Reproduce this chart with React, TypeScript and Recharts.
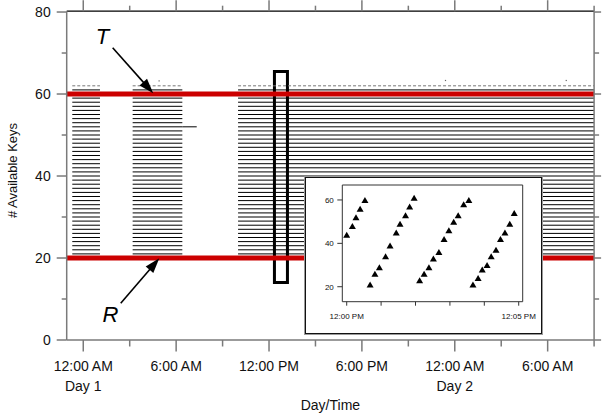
import React from 'react';
import {
  ComposedChart,
  ScatterChart,
  Line,
  Scatter,
  XAxis,
  YAxis,
  ReferenceLine,
  ReferenceArea,
  ReferenceDot,
} from 'recharts';

// ---------- main chart data ----------
const blockStartHours = [-0.71, 3.19, 10.0];
const blockEndHours = [1.08, 6.4, 33.0];
const keyLevels = [
  21, 22, 23, 24, 25, 26, 27, 28, 29, 30, 31, 32, 33, 34, 35, 36, 37, 38, 39, 40,
  41, 42, 43, 44, 45, 46, 47, 48, 49, 50, 51, 52, 53, 54, 55, 56, 57, 58, 59, 60, 61,
];
const extraLevel = 52;
const extraStartHour = 6.4;
const extraEndHour = 7.33;
const dottedLevel = 62;
const strayDotHours = [4.9, 23.4, 31.2];
const strayDotKeys = [63.2, 63.3, 63.3];
const thresholdT = 60;
const thresholdR = 20;
const highlightHours = [12.35, 13.19];
const highlightKeys = [14.0, 65.5];
const arrowT = { fromH: 1.9, fromK: 71.3, toH: 4.52, toK: 60.17 };
const arrowR = { fromH: 2.42, fromK: 8.95, toH: 4.91, toK: 19.93 };
const labelT = { h: 1.24, k: 72.2, text: 'T' };
const labelR = { h: 1.76, k: 4.46, text: 'R' };

const hourTicks = [0, 3, 6, 9, 12, 15, 18, 21, 24, 27, 30, 33];
const hourLabels: Record<number, string[]> = {
  0: ['12:00 AM', 'Day 1'],
  6: ['6:00 AM'],
  12: ['12:00 PM'],
  18: ['6:00 PM'],
  24: ['12:00 AM', 'Day 2'],
  30: ['6:00 AM'],
};
const keyTicks = [0, 10, 20, 30, 40, 50, 60, 70, 80];
const majorKeyTicks = [0, 20, 40, 60, 80];

// ---------- inset data ----------
const run1Minutes = [0.0, 0.165, 0.27, 0.39, 0.53];
const run1Keys = [44, 48, 52, 56, 60];
const run2Minutes = [0.68, 0.82, 0.95, 1.13, 1.26, 1.44, 1.55, 1.71, 1.83, 1.96];
const run2Keys = [21, 26, 29, 34, 39, 45, 49, 53, 57, 61];
const run3Minutes = [2.12, 2.25, 2.39, 2.52, 2.68, 2.83, 2.97, 3.11, 3.24, 3.4, 3.55];
const run3Keys = [23, 26, 29, 33, 36, 42, 46, 50, 53, 58, 60];
const run4Minutes = [3.67, 3.82, 3.94, 4.08, 4.2, 4.34, 4.47, 4.6, 4.74, 4.87];
const run4Keys = [21, 24, 28, 30, 34, 37, 42, 45, 49, 54];
const insetMinuteTicks = [0, 1, 2, 3, 4, 5];
const insetMinuteLabels: Record<number, string> = { 0: '12:00 PM', 5: '12:05 PM' };
const insetKeyTicks = [20, 40, 60];

// ---------- build tables ----------
type Row = { h: number; k: number | null };
const levelRows = (level: number): Row[] => {
  const rows: Row[] = [];
  blockStartHours.forEach((s, i) => {
    const e = level === extraLevel && i === 1 ? extraEndHour : blockEndHours[i];
    rows.push({ h: s, k: level });
    if (level === extraLevel && i === 1) rows.push({ h: extraStartHour, k: level });
    rows.push({ h: e, k: level });
    rows.push({ h: e, k: null });
  });
  return rows;
};
const dottedRows: Row[] = [];
blockStartHours.forEach((s, i) => {
  dottedRows.push({ h: s, k: dottedLevel });
  dottedRows.push({ h: blockEndHours[i], k: dottedLevel });
  dottedRows.push({ h: blockEndHours[i], k: null });
});
const strayRows = strayDotHours.map((h, i) => ({ h, k: strayDotKeys[i] }));

const mkRun = (m: number[], k: number[]) => m.map((v, i) => ({ m: v, k: k[i] }));
const insetRuns = [
  mkRun(run1Minutes, run1Keys),
  mkRun(run2Minutes, run2Keys),
  mkRun(run3Minutes, run3Keys),
  mkRun(run4Minutes, run4Keys),
];

const AXIS = '#7a7a7a';
const TXT = '#111';

// ---------- custom ticks ----------
const BottomTick = (p: any) => {
  const v = p.payload.value;
  const major = v % 6 === 0;
  const lbl = hourLabels[v];
  return (
    <g>
      <line x1={p.x} x2={p.x} y1={p.y} y2={p.y + (major ? 11.5 : 6.5)} stroke={AXIS} strokeWidth={1.5} />
      {lbl &&
        lbl.map((t, i) => (
          <text key={i} x={p.x} y={p.y + 31 + i * 19.5} textAnchor="middle" fontSize={14} fill={TXT}>
            {t}
          </text>
        ))}
    </g>
  );
};
const TopTick = (p: any) => {
  const major = p.payload.value % 6 === 0;
  return <line x1={p.x} x2={p.x} y1={p.y} y2={p.y - (major ? 11 : 5.5)} stroke={AXIS} strokeWidth={1.5} />;
};
const LeftTick = (p: any) => {
  const v = p.payload.value;
  const major = majorKeyTicks.includes(v);
  return (
    <g>
      <line x1={p.x} x2={p.x - (major ? 10 : 5)} y1={p.y} y2={p.y} stroke={AXIS} strokeWidth={1.5} />
      {major && (
        <text x={p.x - 16} y={p.y + 5} textAnchor="end" fontSize={14} fill={TXT}>
          {v}
        </text>
      )}
    </g>
  );
};
const RightTick = (p: any) => {
  const major = majorKeyTicks.includes(p.payload.value);
  return <line x1={p.x} x2={p.x + (major ? 7 : 5)} y1={p.y} y2={p.y} stroke={AXIS} strokeWidth={1.5} />;
};
const InsetXTick = (p: any) => {
  const v = p.payload.value;
  const lbl = insetMinuteLabels[v];
  return (
    <g>
      <line x1={p.x} x2={p.x} y1={p.y} y2={p.y + 4} stroke="#333" strokeWidth={1} />
      {lbl && (
        <text x={p.x} y={p.y + 17} textAnchor="middle" fontSize={8} fill={TXT}>
          {lbl}
        </text>
      )}
    </g>
  );
};
const InsetYTick = (p: any) => (
  <g>
    <line x1={p.x} x2={p.x - 5} y1={p.y} y2={p.y} stroke="#333" strokeWidth={1} />
    <text x={p.x - 8.5} y={p.y + 3} textAnchor="end" fontSize={8} fill={TXT}>
      {p.payload.value}
    </text>
  </g>
);

const Arrow = (p: any) => {
  const { x1, y1, x2, y2 } = p;
  const dx = x2 - x1;
  const dy = y2 - y1;
  const len = Math.hypot(dx, dy) || 1;
  const ux = dx / len;
  const uy = dy / len;
  const hl = 15;
  const hw = 5;
  const bx = x2 - ux * hl;
  const by = y2 - uy * hl;
  return (
    <g>
      <line x1={x1} y1={y1} x2={bx + ux * 2} y2={by + uy * 2} stroke="#000" strokeWidth={1.6} />
      <polygon points={`${x2},${y2} ${bx - uy * hw},${by + ux * hw} ${bx + uy * hw},${by - ux * hw}`} fill="#000" />
    </g>
  );
};
const letterShape = (text: string) => (p: any) => (
  <text x={p.cx} y={p.cy} textAnchor="middle" fontSize={22} fontStyle="italic" fill="#000">
    {text}
  </text>
);
const Triangle = (p: any) => {
  const { cx, cy } = p;
  return <polygon points={`${cx},${cy - 3} ${cx + 3.5},${cy + 3} ${cx - 3.5},${cy + 3}`} fill="#000" />;
};
const StrayDot = (p: any) => <rect x={p.cx - 0.6} y={p.cy - 0.6} width={1.2} height={1.2} fill="#666" />;

const YTitle = () => (
  <text transform="translate(16.7,170.5) rotate(-90)" textAnchor="middle" fontSize={13} fill={TXT}>
    # Available Keys
  </text>
);

export default function App() {
  return (
    <div
      style={{
        position: 'absolute',
        left: 0,
        top: 0,
        width: 602,
        height: 418,
        background: '#fff',
        fontFamily: "'Liberation Sans', Arial, Helvetica, sans-serif",
      }}
    >
      <ComposedChart width={602} height={418} margin={{ top: 0, right: 0, bottom: 0, left: 0 }}>
        <XAxis
          dataKey="h"
          type="number"
          domain={[-1.07, 33]}
          allowDataOverflow
          ticks={hourTicks}
          interval={0}
          height={78}
          tickSize={0}
          tickMargin={0}
          tickLine={false}
          axisLine={{ stroke: AXIS, strokeWidth: 1.5 }}
          tick={<BottomTick />}
          label={{ value: 'Day/Time', position: 'insideBottom', offset: 8, fontSize: 14, fill: TXT }}
        />
        <XAxis
          xAxisId="top"
          orientation="top"
          dataKey="h"
          type="number"
          domain={[-1.07, 33]}
          allowDataOverflow
          ticks={hourTicks}
          interval={0}
          height={11.2}
          tickSize={0}
          tickMargin={0}
          tickLine={false}
          axisLine={{ stroke: '#000', strokeWidth: 1.2 }}
          tick={<TopTick />}
        />
        <YAxis
          dataKey="k"
          type="number"
          domain={[0, 80.2]}
          allowDataOverflow
          ticks={keyTicks}
          interval={0}
          width={66.7}
          tickSize={0}
          tickMargin={0}
          tickLine={false}
          axisLine={{ stroke: AXIS, strokeWidth: 1.5 }}
          tick={<LeftTick />}
          label={YTitle}
        />
        <YAxis
          yAxisId="right"
          orientation="right"
          dataKey="k"
          type="number"
          domain={[0, 80.2]}
          allowDataOverflow
          ticks={keyTicks}
          interval={0}
          width={7.9}
          tickSize={0}
          tickMargin={0}
          tickLine={false}
          axisLine={{ stroke: AXIS, strokeWidth: 1.5 }}
          tick={<RightTick />}
        />
        {keyLevels.map((lv) => (
          <Line
            key={lv}
            data={levelRows(lv)}
            dataKey="k"
            type="linear"
            stroke="#000"
            strokeWidth={1}
            dot={false}
            activeDot={false}
            connectNulls={false}
            isAnimationActive={false}
          />
        ))}
        <Line
          data={dottedRows}
          dataKey="k"
          type="linear"
          stroke="#777"
          strokeWidth={1}
          strokeDasharray="3 2"
          dot={false}
          activeDot={false}
          connectNulls={false}
          isAnimationActive={false}
        />
        <Scatter data={strayRows} dataKey="k" shape={StrayDot} isAnimationActive={false} />
        <ReferenceLine y={thresholdT} stroke="#cc0000" strokeWidth={5} />
        <ReferenceLine y={thresholdR} stroke="#cc0000" strokeWidth={5} />
        <ReferenceArea
          x1={highlightHours[0]}
          x2={highlightHours[1]}
          y1={highlightKeys[0]}
          y2={highlightKeys[1]}
          fill="none"
          fillOpacity={0}
          stroke="#000"
          strokeWidth={3}
        />
        <ReferenceLine
          segment={[
            { x: arrowT.fromH, y: arrowT.fromK },
            { x: arrowT.toH, y: arrowT.toK },
          ]}
          shape={Arrow}
        />
        <ReferenceLine
          segment={[
            { x: arrowR.fromH, y: arrowR.fromK },
            { x: arrowR.toH, y: arrowR.toK },
          ]}
          shape={Arrow}
        />
        <ReferenceDot x={labelT.h} y={labelT.k} r={0} shape={letterShape(labelT.text)} />
        <ReferenceDot x={labelR.h} y={labelR.k} r={0} shape={letterShape(labelR.text)} />
      </ComposedChart>

      <div
        style={{
          position: 'absolute',
          left: 304,
          top: 176,
          width: 239,
          height: 159,
          boxSizing: 'border-box',
          border: '1.5px solid #9a9a9a',
          background: '#fff',
        }}
      >
        <div style={{ position: 'absolute', left: 0, top: 0, right: 0, bottom: 0, border: '1.5px solid #111' }} />
      </div>
      <div style={{ position: 'absolute', left: 304, top: 176, width: 239, height: 159 }}>
        <ScatterChart width={239} height={159} margin={{ top: 9, right: 20.3, bottom: 0, left: 0 }}>
          <XAxis
            dataKey="m"
            type="number"
            domain={[-0.128, 5.116]}
            allowDataOverflow
            ticks={insetMinuteTicks}
            interval={0}
            height={33.3}
            tickSize={0}
            tickMargin={0}
            tickLine={false}
            axisLine={false}
            tick={<InsetXTick />}
          />
          <YAxis
            dataKey="k"
            type="number"
            domain={[13.1, 66.9]}
            allowDataOverflow
            ticks={insetKeyTicks}
            interval={0}
            width={38.3}
            tickSize={0}
            tickMargin={0}
            tickLine={false}
            axisLine={false}
            tick={<InsetYTick />}
          />
          <ReferenceArea x1={-0.128} x2={5.116} y1={13.1} y2={66.9} fill="none" fillOpacity={0} stroke="#333" strokeWidth={1} />
          {insetRuns.map((run, i) => (
            <Scatter key={i} data={run} dataKey="k" shape={Triangle} isAnimationActive={false} />
          ))}
        </ScatterChart>
      </div>
    </div>
  );
}
